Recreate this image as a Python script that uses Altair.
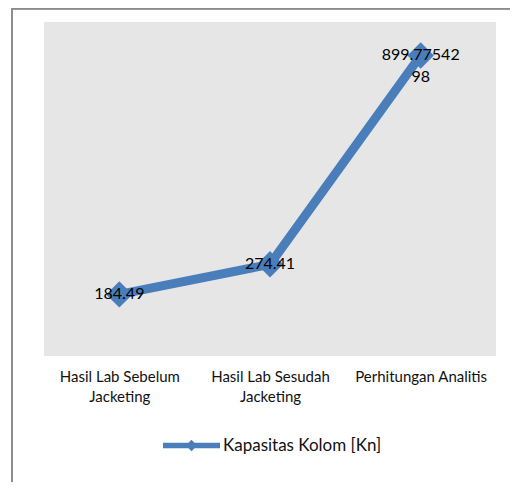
import altair as alt
import pandas as pd

categories = ["Hasil Lab Sebelum\nJacketing", "Hasil Lab Sesudah\nJacketing", "Perhitungan Analitis"]
values = [184.49, 274.41, 899.7754298]
labels = ["184.49", "274.41", "899.77542\n98"]
series_name = "Kapasitas Kolom [Kn]"

df = pd.DataFrame({
    "cat": categories,
    "val": values,
    "lab": labels,
    "series": [series_name] * len(categories),
})

blue = "#4a7ebb"
font = "Lato"

x = alt.X("cat:N", sort=categories, title=None,
          scale=alt.Scale(padding=0.5),
          axis=alt.Axis(labelAngle=0, domain=False, ticks=False, labelFont=font,
                        labelFontSize=15, labelColor="#111111", labelPadding=13,
                        labelLimit=300, labelLineHeight=20,
                        labelExpr="split(datum.label, '\\n')"))
y = alt.Y("val:Q", scale=alt.Scale(domain=[0, 1000]), axis=None)

base = alt.Chart(df)

line = base.mark_line(color=blue, strokeWidth=9).encode(x=x, y=y)

legend_path = "M-1,-0.1L1,-0.1L1,0.1L-1,0.1Z M-0.2,0L0,-0.2L0.2,0L0,0.2Z"
points = base.mark_point(shape="diamond", filled=True, size=700, opacity=1).encode(
    x=x, y=y,
    color=alt.Color("series:N", scale=alt.Scale(range=[blue]),
                    legend=alt.Legend(orient="none", legendX=119, legendY=395,
                                      title=None, symbolType=legend_path,
                                      symbolSize=3249, symbolStrokeWidth=0,
                                      symbolOpacity=1, labelFont=font,
                                      labelFontSize=17, labelColor="#111111",
                                      labelOffset=3, padding=0)))

text = base.mark_text(font=font, fontSize=16, lineBreak="\n", lineHeight=22,
                      baseline="middle", align="center", color="#000000").encode(
    x=x, y=y, text="lab:N")

border_left = alt.Chart(df).mark_rule(color="#8c8c8c", strokeWidth=1.5).encode(
    x=alt.value(-32), y=alt.value(-14), y2=alt.value(460))
border_top = alt.Chart(df).mark_rule(color="#8c8c8c", strokeWidth=1.5).encode(
    x=alt.value(-32), x2=alt.value(466), y=alt.value(-13.2))

chart = alt.layer(line, points, text, border_left, border_top).properties(
    width=452, height=334,
    autosize=alt.AutoSizeParams(type="none"),
    padding={"left": 36, "top": 14, "right": 14, "bottom": 126},
).configure_view(fill="#e6e6e6", stroke=None)

chart.save("out.html", embed_options={"renderer": "svg", "actions": False})
